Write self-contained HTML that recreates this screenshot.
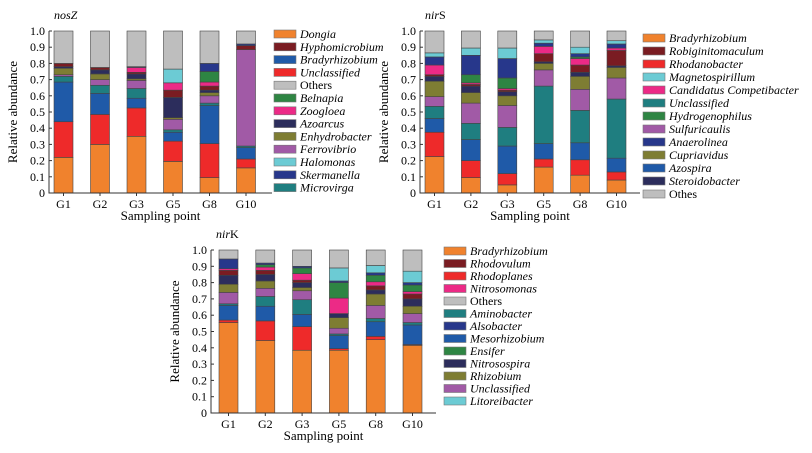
<!DOCTYPE html>
<html><head><meta charset="utf-8"><style>
body{margin:0;background:#fff;}
svg{display:block;font-family:"Liberation Serif",serif;}
</style></head><body>
<svg id="c" width="812" height="453" viewBox="0 0 812 453" xmlns="http://www.w3.org/2000/svg"></svg>
<script>
const groups=["G1","G2","G3","G5","G8","G10"];
const yTicks=["0","0.1","0.2","0.3","0.4","0.5","0.6","0.7","0.8","0.9","1.0"];
const C={orange:"#f0822d",dred:"#7a1c22",blue:"#1f5aa8",red:"#ee2a2a",gray:"#bebebe",green:"#2e8543",pink:"#ec2a86",dnavy:"#2c2d5c",olive:"#7e7d33",purple:"#a15aa6",cyan:"#6ccbd4",navy:"#27378b",teal:"#1f7e80"};

// nosZ stacked series (bottom to top)
const nosNames=["Dongia","Unclassified","Bradyrhizobium","Microvirga","Ferrovibrio","Enhydrobacter","Azoarcus","Hyphomicrobium","Zoogloea","Halomonas","Belnapia","Skermanella","Others"];
const nosColors=["orange","red","blue","teal","purple","olive","dnavy","dred","pink","cyan","green","navy","gray"];
const nosDongia=[.22,.30,.35,.195,.095,.155];
const nosUncl=[.22,.185,.175,.125,.21,.055];
const nosBrady=[.245,.13,.06,.055,.235,.07];
const nosMicro=[.035,.05,.06,.015,.015,.01];
const nosFerro=[.01,.035,.05,.065,.045,.595];
const nosEnhy=[.04,.035,.01,.01,.02,0];
const nosAzo=[.01,.025,.03,.125,.015,0];
const nosHypho=[.02,.015,.01,.045,.025,.025];
const nosZoog=[0,0,.03,.045,.025,0];
const nosHalo=[0,0,0,.085,0,0];
const nosBeln=[0,0,0,0,.065,0];
const nosSkerm=[0,0,.005,0,.05,.01];
const nosOthers=[.20,.225,.22,.235,.20,.08];
const nosLegend=["Dongia","Hyphomicrobium","Bradyrhizobium","Unclassified","Others","Belnapia","Zoogloea","Azoarcus","Enhydrobacter","Ferrovibrio","Halomonas","Skermanella","Microvirga"];
const nosLegendColors=["orange","dred","blue","red","gray","green","pink","dnavy","olive","purple","cyan","navy","teal"];

// nirS
const nirSNames=["Bradyrhizobium","Rhodanobacter","Azospira","Unclassified","Sulfuricaulis","Cupriavidus","Steroidobacter","Robiginitomaculum","Candidatus Competibacter","Hydrogenophilus","Anaerolinea","Magnetospirillum","Others"];
const nirSColors=["orange","red","blue","teal","purple","olive","dnavy","dred","pink","green","navy","cyan","gray"];
const sBrady=[.225,.095,.05,.16,.11,.08];
const sRhodano=[.15,.105,.07,.05,.095,.05];
const sAzosp=[.085,.13,.17,.095,.105,.085];
const sUncl=[.075,.10,.115,.355,.20,.365];
const sSulf=[.06,.125,.135,.10,.13,.13];
const sCupri=[.095,.065,.06,.04,.08,.065];
const sStero=[.03,.04,.025,.01,.025,.01];
const sRobig=[.01,.01,.01,.05,.045,.095];
const sCand=[.06,.01,.01,.045,.04,.015];
const sHydro=[0,.05,.065,0,.01,0];
const sAnaero=[.05,.12,.12,.02,.02,.025];
const sMagneto=[.025,.045,.065,.02,.04,.02];
const sOthers=[.135,.105,.105,.055,.10,.06];
const nirSLegend=["Bradyrhizobium","Robiginitomaculum","Rhodanobacter","Magnetospirillum","Candidatus Competibacter","Unclassified","Hydrogenophilus","Sulfuricaulis","Anaerolinea","Cupriavidus","Azospira","Steroidobacter","Othes"];
const nirSLegendColors=["orange","dred","red","cyan","pink","teal","green","purple","navy","olive","blue","dnavy","gray"];

// nirK
const nirKNames=["Bradyrhizobium","Rhodoplanes","Mesorhizobium","Aminobacter","Unclassified","Rhizobium","Nitrosospira","Rhodovulum","Nitrosomonas","Ensifer","Alsobacter","Litoreibacter","Others"];
const nirKColors=["orange","red","blue","teal","purple","olive","dnavy","dred","pink","green","navy","cyan","gray"];
const kBrady=[.555,.445,.385,.385,.45,.415];
const kRhodop=[.015,.12,.145,.01,.02,.005];
const kMeso=[.09,.09,.075,.08,.09,.12];
const kAmino=[.01,.06,.09,.01,.02,.015];
const kUncl=[.07,.05,.055,.035,.08,.055];
const kRhizo=[.05,.045,.02,.065,.07,.045];
const kNitrosp=[.055,.04,.03,.025,.025,.045];
const kRhodov=[.03,.025,.015,0,.025,.03];
const kNitrosm=[.01,.02,.04,.095,.025,.015];
const kEnsif=[0,.015,.035,.095,.04,.04];
const kAlso=[.06,.01,.01,.01,.015,.015];
const kLito=[0,0,0,.08,.045,.07];
const kOthers=[.055,.08,.10,.11,.095,.13];
const nirKLegend=["Bradyrhizobium","Rhodovulum","Rhodoplanes","Nitrosomonas","Others","Aminobacter","Alsobacter","Mesorhizobium","Ensifer","Nitrosospira","Rhizobium","Unclassified","Litoreibacter"];
const nirKLegendColors=["orange","dred","red","pink","gray","teal","navy","blue","green","dnavy","olive","purple","cyan"];

const svg=document.getElementById('c');
const NS="http://www.w3.org/2000/svg";
function mk(tag,attrs,txt){const e=document.createElementNS(NS,tag);for(const k in attrs)e.setAttribute(k,attrs[k]);if(txt!=null)e.textContent=txt;svg.appendChild(e);return e;}

function chart(cfg){
  const {key,title,ax,y0,y1,xEnd,bar0,step,bw,names,colors,series,legend,legendColors,lx,ly,lstep}=cfg;
  const yS=v=>y0-(y0-y1)*v;
  const xS=i=>bar0+i*step;
  groups.forEach((g,i)=>{
    let cum=0;
    series.forEach((arr,s)=>{
      const v=arr[i];if(v<=0)return;
      const r=mk('rect',{x:xS(i),y:yS(cum+v),width:bw,height:yS(cum)-yS(cum+v),fill:C[colors[s]],stroke:"#444","stroke-width":0.6});
      
      
      cum+=v;
    });
    const t=mk('text',{x:xS(i)+bw/2,y:y0+15,"text-anchor":"middle","font-size":12},g);
    
    
  });
  const a=mk('path',{d:`M${ax},${y1} V${y0} H${xEnd}`,stroke:"#333",fill:"none","stroke-width":1});
  
  
  yTicks.forEach((lab,k)=>{
    const y=yS(k/10);
    const tk=mk('line',{x1:ax,x2:ax+3,y1:y,y2:y,stroke:"#333"});
    
    
    const t=mk('text',{x:ax-4,y:y+4,"text-anchor":"end","font-size":12},lab);
    
    
  });
  groups.forEach((g,i)=>{const tk=mk('line',{x1:xS(i)+bw/2,x2:xS(i)+bw/2,y1:y0,y2:y0+3,stroke:"#333"});
    });
  const xt=mk('text',{x:(ax+xEnd)/2,y:y0+27,"text-anchor":"middle","font-size":13},"Sampling point");
  
  
  const yc=(y0+y1)/2,yx=ax-32;
  const yt=mk('text',{x:yx,y:yc,"text-anchor":"middle","font-size":13,transform:`rotate(-90 ${yx} ${yc})`},"Relative abundance");
  
  
  const tt=mk('text',{x:ax+5,y:y1-12,"font-size":12});
  
  
  tt.innerHTML=title;
  legend.forEach((n,k)=>{
    const y=ly+k*lstep;
    const r=mk('rect',{x:lx,y:y,width:22,height:8,fill:C[legendColors[k]],stroke:"#777","stroke-width":0.6});
    
    
    const it=(n==="Others"||n==="Othes")?"normal":"italic";
    const t=mk('text',{x:lx+26,y:y+8,"font-size":12,"font-style":it},n);
    
    
  });
}

chart({key:"nosz",title:'<tspan font-style="italic">nosZ</tspan>',ax:49,y0:193,y1:31,xEnd:272,bar0:54,step:36.5,bw:19,
  names:nosNames,colors:nosColors,series:[nosDongia,nosUncl,nosBrady,nosMicro,nosFerro,nosEnhy,nosAzo,nosHypho,nosZoog,nosHalo,nosBeln,nosSkerm,nosOthers],
  legend:nosLegend,legendColors:nosLegendColors,lx:274,ly:30,lstep:12.8});
chart({key:"nirs",title:'<tspan font-style="italic">nir</tspan>S',ax:420,y0:193,y1:31,xEnd:640,bar0:425,step:36.4,bw:19,
  names:nirSNames,colors:nirSColors,series:[sBrady,sRhodano,sAzosp,sUncl,sSulf,sCupri,sStero,sRobig,sCand,sHydro,sAnaero,sMagneto,sOthers],
  legend:nirSLegend,legendColors:nirSLegendColors,lx:643,ly:34,lstep:13});
chart({key:"nirk",title:'<tspan font-style="italic">nir</tspan>K',ax:211,y0:413,y1:250,xEnd:436,bar0:219,step:36.8,bw:19,
  names:nirKNames,colors:nirKColors,series:[kBrady,kRhodop,kMeso,kAmino,kUncl,kRhizo,kNitrosp,kRhodov,kNitrosm,kEnsif,kAlso,kLito,kOthers],
  legend:nirKLegend,legendColors:nirKLegendColors,lx:444,ly:247,lstep:12.5});
</script>
</body></html>
